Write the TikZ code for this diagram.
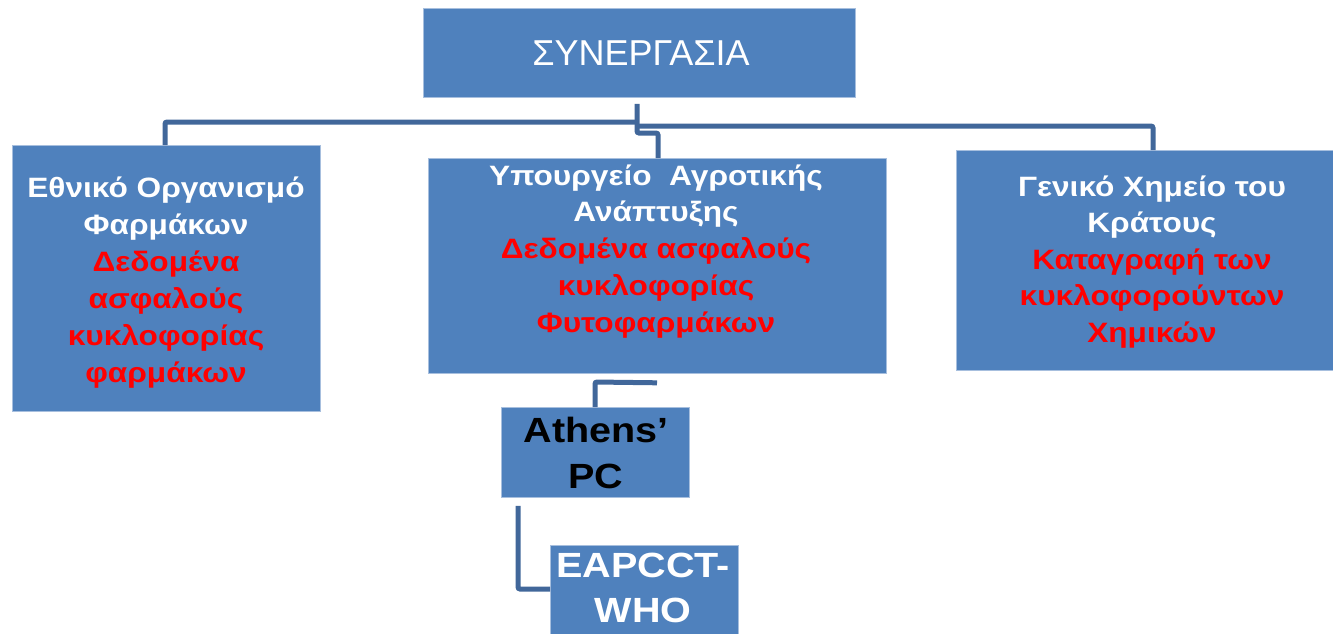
\documentclass[tikz,border=0pt]{standalone}
\usepackage{fontspec}
\setmainfont{Liberation Sans}
\newfontfamily\widefont[FakeStretch=1.13]{Liberation Sans}
\definecolor{boxblue}{HTML}{4F81BD}
\definecolor{boxedge}{HTML}{A7BFDE}
\definecolor{linkblue}{HTML}{41679A}
\definecolor{txtred}{HTML}{FF0000}
\begin{document}
\begin{tikzpicture}[x=1pt,y=-1pt,
  box/.style={draw=boxedge, line width=0.8pt, fill=boxblue, inner sep=0pt, anchor=north west},
  link/.style={draw=linkblue, line width=5pt, rounded corners=2pt},
  txt/.style={align=center, inner sep=0pt, anchor=base, text=white}]
\useasboundingbox (0,0) rectangle (1333,633);
% boxes
\node[box, minimum width=432pt, minimum height=89pt] (top) at (423,8) {};
\node[box, minimum width=308pt, minimum height=266pt] (left) at (12,145) {};
\node[box, minimum width=458pt, minimum height=215pt] (middle) at (428,158) {};
\node[box, minimum width=378pt, minimum height=220pt] (right) at (956,150) {};
\node[box, minimum width=188pt, minimum height=90pt] (athens) at (501,407) {};
\node[box, minimum width=188pt, minimum height=95pt] (eapcct) at (550,545) {};
% texts (anchor base = baseline of the last line)
\node[txt, font=\fontsize{36}{40}\selectfont] (ttop) at (641,65) {ΣΥΝΕΡΓΑΣΙΑ};
\node[txt, font=\widefont\bfseries\fontsize{28}{37}\selectfont] (tleft) at (166,382) {Εθνικό Οργανισμό\\Φαρμάκων\\\textcolor{txtred}{Δεδομένα}\\\textcolor{txtred}{ασφαλούς}\\\textcolor{txtred}{κυκλοφορίας}\\\textcolor{txtred}{φαρμάκων}};
\node[txt, font=\widefont\bfseries\fontsize{28}{36.75}\selectfont] (tmiddle) at (656,332) {Υπουργείο\ \ Αγροτικής\\Ανάπτυξης\\\textcolor{txtred}{Δεδομένα ασφαλούς}\\\textcolor{txtred}{κυκλοφορίας}\\\textcolor{txtred}{Φυτοφαρμάκων}};
\node[txt, font=\widefont\bfseries\fontsize{28}{36.5}\selectfont] (tright) at (1152,342) {Γενικό Χημείο του\\Κράτους\\\textcolor{txtred}{Καταγραφή των}\\\textcolor{txtred}{κυκλοφορούντων}\\\textcolor{txtred}{Χημικών}};
\node[txt, font=\widefont\bfseries\fontsize{35}{46}\selectfont, text=black] (tathens) at (596,488) {Athens’\\PC};
\node[txt, font=\widefont\bfseries\fontsize{35}{45}\selectfont] (teapcct) at (643,622) {EAPCCT-\\WHO};
% connectors
\draw[link] (top.south -| 637,0) ++(0,6) -- (637,133) -- (658,133) -- (middle.north -| 658,0);
\draw[link] (637,122) -- (165,122) -- (left.north -| 165,0);
\draw[link] (637,126) -- (1153,126) -- (right.north -| 1153,0);
\draw[link] (middle.south -| 657,0) ++(0,9) -- (595,382) -- (athens.north -| 595,0);
\draw[link] (athens.south -| 518,0) ++(0,8) -- (518,589) -- (eapcct.west |- 0,589);
\end{tikzpicture}
\end{document}
